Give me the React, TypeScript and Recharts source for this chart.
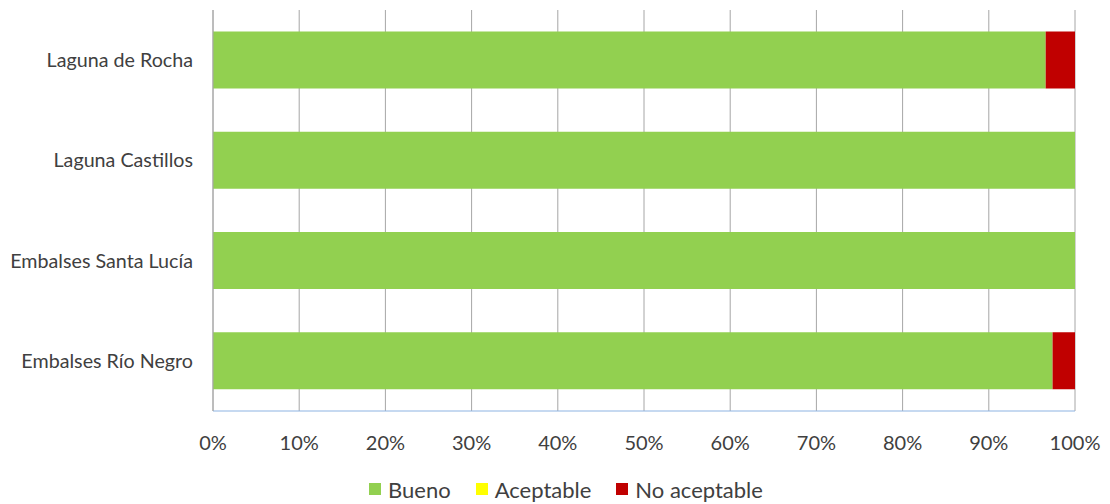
import React from "react";
import { BarChart, Bar, XAxis, YAxis, CartesianGrid, Legend } from "recharts";

// Water bodies, top to bottom
const categories = [
  "Laguna de Rocha",
  "Laguna Castillos",
  "Embalses Santa Lucía",
  "Embalses Río Negro",
];

// Share of samples per quality class (%)
const bueno = [96.6, 100, 100, 97.4];
const aceptable = [0, 0, 0, 0];
const noAceptable = [3.4, 0, 0, 2.6];

const xTicks = [0, 10, 20, 30, 40, 50, 60, 70, 80, 90, 100];

const series = [
  { key: "bueno", name: "Bueno", color: "#92D050" },
  { key: "aceptable", name: "Aceptable", color: "#FFFF00" },
  { key: "noAceptable", name: "No aceptable", color: "#C00000" },
];

const data = categories.map((name, i) => ({
  name,
  bueno: bueno[i],
  aceptable: aceptable[i],
  noAceptable: noAceptable[i],
}));

const FONT = "Lato, 'Liberation Sans', sans-serif";
const TEXT = "#404040";

const LegendContent = () => (
  <div
    style={{
      display: "flex",
      justifyContent: "center",
      alignItems: "center",
      fontFamily: FONT,
      fontSize: 22,
      color: TEXT,
      height: 30,
      paddingLeft: 57,
    }}
  >
    {series.map((s, i) => (
      <div
        key={s.key}
        style={{ display: "flex", alignItems: "center", marginLeft: i === 0 ? 0 : 25 }}
      >
        <span
          style={{ width: 12, height: 12, background: s.color, display: "inline-block", marginRight: 7 }}
        />
        <span>{s.name}</span>
      </div>
    ))}
  </div>
);

export default function App() {
  return (
    <div style={{ position: "absolute", left: 0, top: 0, background: "#fff" }}>
      <BarChart
        width={1110}
        height={504}
        data={data}
        layout="vertical"
        margin={{ top: 10, right: 35, bottom: 0, left: 0 }}
        barCategoryGap="21.5%"
      >
        <CartesianGrid horizontal={false} stroke="#a6a6a6" strokeWidth={1} />
        <XAxis
          type="number"
          domain={[0, 100]}
          ticks={xTicks}
          interval={0}
          tickFormatter={(v) => `${v}%`}
          axisLine={{ stroke: "#8db3e2", strokeWidth: 1 }}
          tickLine={false}
          tickSize={0}
          tickMargin={25}
          height={63}
          tick={{ fill: TEXT, fontFamily: FONT, fontSize: 20 }}
        />
        <YAxis
          type="category"
          dataKey="name"
          width={213}
          axisLine={{ stroke: "#a6a6a6", strokeWidth: 1 }}
          tickLine={false}
          tickSize={0}
          tickMargin={20}
          tick={{ fill: TEXT, fontFamily: FONT, fontSize: 19.7 }}
        />
        <Legend verticalAlign="bottom" height={30} content={LegendContent} />
        {series.map((s) => (
          <Bar
            key={s.key}
            dataKey={s.key}
            name={s.name}
            stackId="q"
            fill={s.color}
            isAnimationActive={false}
          />
        ))}
      </BarChart>
    </div>
  );
}
